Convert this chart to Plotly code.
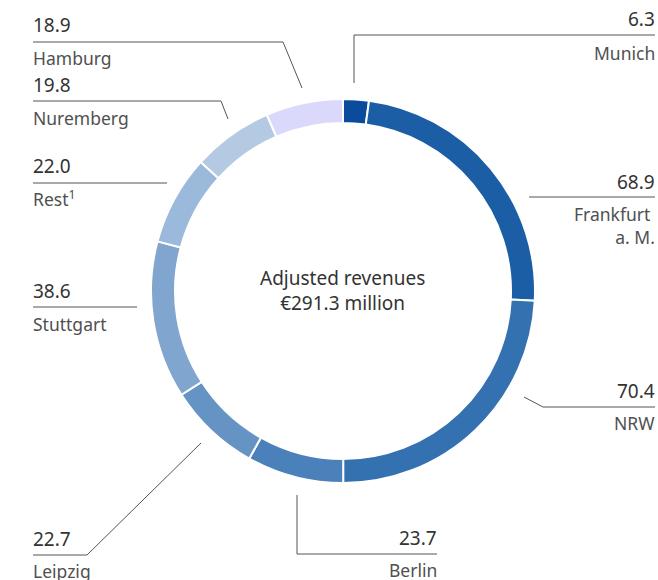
import plotly.graph_objects as go

# Adjusted revenues by region, EUR million (clockwise from 12 o'clock)
regions = ['Munich', 'Frankfurt a. M.', 'NRW', 'Berlin', 'Leipzig',
           'Stuttgart', 'Rest', 'Nuremberg', 'Hamburg']
revenues = [6.3, 68.9, 70.4, 23.7, 22.7, 38.6, 22.0, 19.8, 18.9]
label_text = ['Munich', 'Frankfurt <br>a. M.', 'NRW', 'Berlin', 'Leipzig',
              'Stuttgart', 'Rest<sup>1</sup>', 'Nuremberg', 'Hamburg']
slice_colors = ['#0a4c9b', '#1b5ea6', '#3371b1', '#4a81ba', '#6593c4',
                '#80a5ce', '#9bb9da', '#b4c9e2', '#dad9fb']

W, H = 658, 580
text_color = '#333333'
label_color = '#505050'
line_color = '#555555'
font_family = 'Noto Sans, sans-serif'


def px_x(x):
    return x / W


def px_y(y):
    return 1 - y / H


# label placement (pixels): value y, name y, x, side, leader line path
placements = {
    'Munich':          dict(x=655, vy=19, ny=53, side='right',
                            path=[(354, 83), (354, 35), (655, 35)]),
    'Frankfurt a. M.': dict(x=655, vy=182, ny=225, side='right',
                            path=[(529, 197), (655, 197)]),
    'NRW':             dict(x=655, vy=391, ny=423, side='right',
                            path=[(524, 397), (543, 407), (655, 407)]),
    'Berlin':          dict(x=437, vy=538, ny=570, side='right',
                            path=[(297, 495), (297, 554), (437, 554)]),
    'Leipzig':         dict(x=33, vy=539, ny=571, side='left',
                            path=[(201, 443), (87, 555), (33, 555)]),
    'Stuttgart':       dict(x=33, vy=291, ny=324, side='left',
                            path=[(137, 307), (33, 307)]),
    'Rest':            dict(x=33, vy=166, ny=198, side='left',
                            path=[(167, 183), (33, 183)]),
    'Nuremberg':       dict(x=33, vy=85, ny=118, side='left',
                            path=[(228, 119), (221, 101), (33, 101)]),
    'Hamburg':         dict(x=33, vy=25, ny=58, side='left',
                            path=[(302, 88), (283, 42), (33, 42)]),
}

fig = go.Figure(go.Pie(
    labels=regions,
    values=revenues,
    sort=False,
    direction='clockwise',
    rotation=0,
    hole=0.875,
    textinfo='none',
    marker=dict(colors=slice_colors, line=dict(color='white', width=2)),
    domain=dict(x=[151 / W, 535 / W], y=[1 - 483 / H, 1 - 99 / H]),
    showlegend=False,
))

annotations = [dict(
    x=px_x(342), y=px_y(291), xref='paper', yref='paper',
    text='Adjusted revenues<br>€291.3 million', showarrow=False,
    font=dict(size=19, color=text_color, family=font_family),
    align='center',
)]
shapes = []

for name, val, lab in zip(regions, revenues, label_text):
    p = placements[name]
    anchor = 'right' if p['side'] == 'right' else 'left'
    annotations.append(dict(
        x=px_x(p['x']), y=px_y(p['vy']), xref='paper', yref='paper',
        text=f'{val:.1f}', showarrow=False, xanchor=anchor, yanchor='middle',
        xshift=2 if anchor == 'right' else -2,
        font=dict(size=19, color=text_color, family=font_family),
    ))
    annotations.append(dict(
        x=px_x(p['x']), y=px_y(p['ny']), xref='paper', yref='paper',
        text=lab, showarrow=False, xanchor=anchor, yanchor='middle',
        align=anchor,
        xshift=2 if anchor == 'right' else -2,
        font=dict(size=17.5, color=label_color, family=font_family),
    ))
    pts = p['path']
    for (x0, y0), (x1, y1) in zip(pts[:-1], pts[1:]):
        shapes.append(dict(
            type='line', xref='paper', yref='paper',
            x0=px_x(x0), y0=px_y(y0), x1=px_x(x1), y1=px_y(y1),
            line=dict(color=line_color, width=1),
        ))

fig.update_layout(
    width=W, height=H,
    margin=dict(l=0, r=0, t=0, b=0),
    paper_bgcolor='white',
    plot_bgcolor='white',
    annotations=annotations,
    shapes=shapes,
)

fig.write_html('out.html', config={'displayModeBar': False},
               post_script="document.body.style.margin='0';")
